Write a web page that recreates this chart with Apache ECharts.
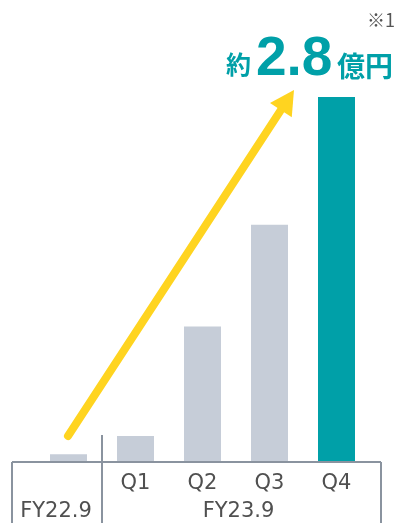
<!DOCTYPE html>
<html><head><meta charset="utf-8">
<script src="https://cdn.jsdelivr.net/npm/echarts@6/dist/echarts.min.js"></script>
<style>html,body{margin:0;padding:0;background:#fff}#c{width:400px;height:523px}</style>
</head><body><div id="c"></div>
<script>
const categories = ['FY22.9', 'Q1', 'Q2', 'Q3', 'Q4'];
const values = [0.06, 0.2, 1.04, 1.82, 2.8];
const fyLabels = ['FY22.9', 'FY23.9'];
const headline = ['約', '2.8', '億円'];
const note = '※1';

const TEAL = '#00A0A8', GRAY = '#C6CDD8', LINE = '#8A939F', TXT = '#505050';
const FONT = '"DejaVu Sans", sans-serif';
const chart = echarts.init(document.getElementById('c'), null, {renderer: 'canvas'});
chart.setOption({
  animation: false,
  grid: {left: 35, right: 30, top: 97, bottom: 61},
  xAxis: {
    type: 'category', data: categories,
    axisLine: {show: false}, axisTick: {show: false},
    axisLabel: {formatter: (v, i) => i === 0 ? '' : v, color: TXT, fontSize: 21, fontFamily: FONT, margin: 11}
  },
  yAxis: {type: 'value', min: 0, max: 2.8, show: false, splitLine: {show: false}},
  series: [{
    type: 'bar', barWidth: 37,
    data: values.map((v, i) => ({value: v, itemStyle: {color: i === values.length - 1 ? TEAL : GRAY}}))
  }]
});

const base = chart.convertToPixel({yAxisIndex: 0}, 0);
const c0 = chart.convertToPixel({xAxisIndex: 0}, categories[0]);
const c1 = chart.convertToPixel({xAxisIndex: 0}, categories[1]);
const div = (c0 + c1) / 2;
const L = 12, R = 381, B = 523;
const lineStyle = {stroke: LINE, lineWidth: 2};
// arrow
const ax0 = 68, ay0 = 436, tip = [294, 90];
const dx = tip[0] - ax0, dy = tip[1] - ay0, len = Math.hypot(dx, dy);
const ux = dx / len, uy = dy / len, px = -uy, py = ux;
const hl = 24, hw = 13;
const bx = tip[0] - ux * hl, by = tip[1] - uy * hl;
const YEL = '#FFD420';
chart.setOption({
  graphic: [
    {type: 'line', shape: {x1: L, y1: base, x2: R, y2: base}, style: lineStyle, z: 10},
    {type: 'line', shape: {x1: L, y1: base, x2: L, y2: B}, style: lineStyle, z: 10},
    {type: 'line', shape: {x1: R, y1: base, x2: R, y2: B}, style: lineStyle, z: 10},
    {type: 'line', shape: {x1: div, y1: base - 27, x2: div, y2: B}, style: lineStyle, z: 10},
    {type: 'text', x: (L + div) / 2 - 1, y: 512, style: {text: fyLabels[0], fill: TXT, font: '21px ' + FONT, textAlign: 'center', textVerticalAlign: 'middle'}},
    {type: 'text', x: (div + R) / 2 - 3, y: 512, style: {text: fyLabels[1], fill: TXT, font: '21px ' + FONT, textAlign: 'center', textVerticalAlign: 'middle'}},
    {type: 'line', shape: {x1: ax0, y1: ay0, x2: bx + ux * 2, y2: by + uy * 2}, style: {stroke: YEL, lineWidth: 8, lineCap: 'round'}, z: 20},
    {type: 'polygon', shape: {points: [tip, [bx + px * hw, by + py * hw], [bx - px * hw, by - py * hw]]}, style: {fill: YEL}, z: 20},
    {type: 'text', x: 251, y: 77, style: {text: headline[0], fill: TEAL, font: 'bold 25px "Noto Sans CJK JP"', textAlign: 'right', textVerticalAlign: 'bottom'}},
    {type: 'text', x: 256, y: 87, style: {text: headline[1], fill: TEAL, font: 'bold 55px "Liberation Sans", sans-serif', textAlign: 'left', textVerticalAlign: 'bottom'}},
    {type: 'text', x: 393, y: 80, style: {text: headline[2], fill: TEAL, font: 'bold 28px "Noto Sans CJK JP"', textAlign: 'right', textVerticalAlign: 'bottom'}},
    {type: 'text', x: 395, y: 20, style: {text: note, fill: '#555', font: '18px "Noto Sans CJK JP"', textAlign: 'right', textVerticalAlign: 'middle'}}
  ]
});
</script></body></html>
